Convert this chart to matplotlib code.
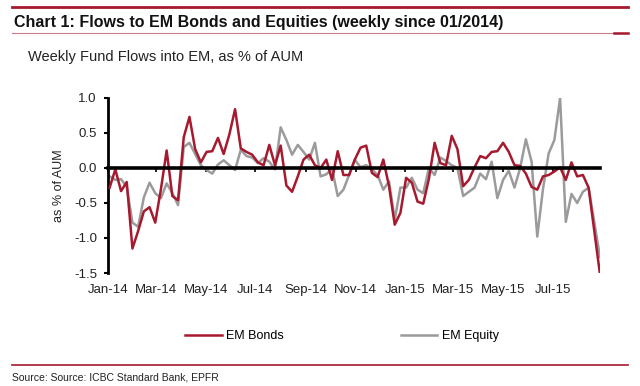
import numpy as np
import pandas as pd
import matplotlib
matplotlib.use("Agg")
import matplotlib.pyplot as plt
import matplotlib.dates as mdates
from matplotlib.lines import Line2D

plt.rcParams['font.family'] = ['Liberation Sans', 'DejaVu Sans']
plt.rcParams['axes.unicode_minus'] = False

# weekly data, Jan 2014 - Aug 2015 (one week missing before the last print)
dates = pd.date_range('2014-01-03', periods=87, freq='W-FRI').delete(85)

em_bonds = [
    -0.28, -0.02, -0.33, -0.20, -1.15, -0.90, -0.62, -0.56, -0.78, -0.30,
    0.25, -0.40, -0.46, 0.44, 0.73, 0.27, 0.08, 0.23, 0.24, 0.43,
    0.20, 0.48, 0.84, 0.28, 0.23, 0.19, 0.08, 0.04, 0.33, 0.04,
    0.32, -0.25, -0.34, -0.12, 0.12, 0.19, 0.04, 0.00, 0.12, -0.17,
    0.24, -0.10, -0.10, 0.12, 0.29, 0.32, -0.07, -0.13, 0.12, -0.26,
    -0.81, -0.64, -0.14, -0.21, -0.48, -0.51, -0.15, 0.36, 0.07, 0.04,
    0.46, 0.27, -0.26, -0.17, 0.01, 0.17, 0.14, 0.23, 0.24, 0.36,
    0.23, 0.04, 0.03, -0.08, -0.27, -0.31, -0.12, -0.10, -0.05, 0.01,
    -0.17, 0.08, -0.12, -0.10, -0.28, -1.52,
]
em_equity = [
    -0.12, -0.17, -0.16, -0.27, -0.78, -0.84, -0.42, -0.21, -0.36, -0.43,
    -0.22, -0.36, -0.53, 0.30, 0.36, 0.20, 0.04, -0.03, -0.08, 0.05,
    0.11, 0.04, -0.03, 0.26, 0.17, 0.15, 0.07, 0.14, 0.09, -0.02,
    0.58, 0.40, 0.19, 0.33, 0.23, 0.12, 0.36, -0.12, -0.09, -0.01,
    -0.40, -0.31, -0.10, 0.12, 0.01, 0.04, -0.02, -0.10, -0.31, -0.19,
    -0.74, -0.28, -0.28, -0.14, -0.31, -0.36, 0.00, -0.10, 0.15, 0.10,
    0.04, 0.00, -0.40, -0.34, -0.28, -0.08, -0.16, 0.09, -0.43, -0.17,
    -0.04, -0.28, 0.00, 0.41, 0.09, -0.98, -0.30, 0.21, 0.40, 1.00,
    -0.77, -0.37, -0.50, -0.34, -0.28, -1.27,
]
yticks = [-1.5, -1.0, -0.5, 0.0, 0.5, 1.0]

RED = '#A6192E'
GREY = '#9B9B9B'
W, H = 640, 386

fig = plt.figure(figsize=(6.4, 3.86), dpi=100)
ax = fig.add_axes([108 / W, 1 - 273 / H, 492 / W, 175 / H])

l1, = ax.plot(dates, em_bonds, color=RED, lw=1.8, label='EM Bonds', zorder=3)
l2, = ax.plot(dates, em_equity, color=GREY, lw=1.8, label='EM Equity', zorder=2)

ax.set_xlim(pd.Timestamp('2014-01-01'), dates[-1])
ax.set_ylim(-1.5, 1.0)
ax.set_yticks(yticks)
ax.yaxis.set_major_formatter(plt.FormatStrFormatter('%.1f'))

for s in ['top', 'right']:
    ax.spines[s].set_visible(False)
ax.spines['left'].set_linewidth(2)
ax.spines['bottom'].set_position(('data', 0))
ax.spines['bottom'].set_linewidth(2.6)
ax.spines['bottom'].set_zorder(4)

ax.xaxis.set_major_locator(mdates.MonthLocator(bymonth=[1, 3, 5, 7, 9, 11]))
ax.tick_params(axis='x', direction='out', length=3, width=1.2, labelbottom=False)
ax.tick_params(axis='y', direction='out', length=3, width=1.5, labelsize=9.5,
               pad=5, labelcolor='#222222')

sec = ax.secondary_xaxis('bottom')
sec.xaxis.set_major_locator(mdates.MonthLocator(bymonth=[1, 3, 5, 7, 9, 11]))
sec.xaxis.set_major_formatter(mdates.DateFormatter('%b-%y'))
sec.spines['bottom'].set_visible(False)
sec.tick_params(length=0, pad=8, labelsize=9.5, labelcolor='#222222')

ax.set_ylabel('as % of AUM', fontsize=9, color='#222222')
ax.yaxis.set_label_coords(-0.087, 0.5)

# header / footer decoration
fig.add_artist(Line2D([12 / W, 628 / W], [1 - 7 / H] * 2, color=RED, lw=2))
fig.add_artist(Line2D([12 / W, 628 / W], [1 - 33 / H] * 2, color='#C97C85', lw=0.8))
fig.add_artist(Line2D([614 / W, 628 / W], [1 - 33 / H] * 2, color=RED, lw=1.8))
fig.add_artist(Line2D([12 / W, 628 / W], [1 - 365 / H] * 2, color=RED, lw=1.2))

fig.text(14 / W, 1 - 23 / H, 'Chart 1: Flows to EM Bonds and Equities (weekly since 01/2014)',
         fontsize=11.5, weight='bold', va='center', color='#111111')
fig.text(28 / W, 1 - 57 / H, 'Weekly Fund Flows into EM, as % of AUM',
         fontsize=10.5, va='center', color='#222222')
fig.text(12 / W, 1 - 378 / H, 'Source: Source: ICBC Standard Bank, EPFR',
         fontsize=7.5, va='center', color='#222222')

fig.legend([l1, l2], ['EM Bonds', 'EM Equity'], loc='center',
           bbox_to_anchor=(342 / W, 1 - 336 / H), ncol=2, frameon=False,
           handlelength=2.9, handletextpad=0.35, columnspacing=9.4, fontsize=9)

fig.savefig('out.png', dpi=100)
